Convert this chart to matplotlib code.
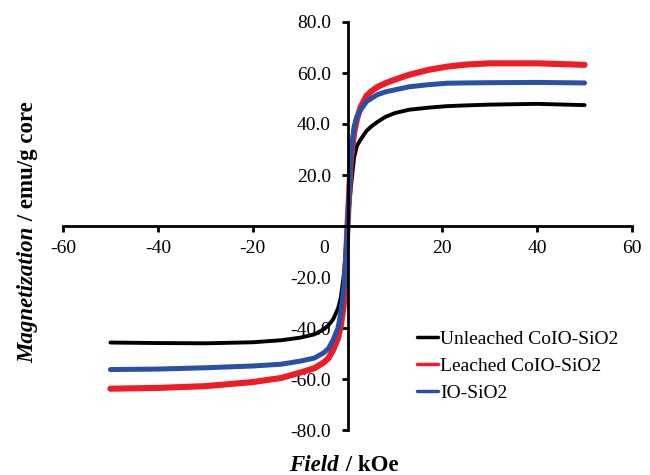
import matplotlib
matplotlib.use("Agg")
import matplotlib.pyplot as plt
from matplotlib.transforms import ScaledTranslation

# Field (kOe) and magnetization (emu/g core)
field = [-50, -40, -30, -20, -14, -10, -7, -5, -4, -3, -2, -1.4, -0.7, 0,
         0.7, 1.4, 2, 2.8, 4, 5, 6.3, 8, 10, 13, 17, 21, 25, 30, 40, 50]

unleached = [-45.7, -45.9, -46.0, -45.6, -44.8, -43.8, -42.5, -40.5, -38.9, -36.5,
             -32.4, -28.0, -18.0, 0.0, 15.0, 27.0, 31.5, 34.0, 37.3, 39.0,
             40.8, 42.8, 44.3, 45.6, 46.4, 47.0, 47.3, 47.6, 47.9, 47.4]

leached = [-63.8, -63.5, -62.8, -61.2, -59.6, -57.5, -55.8, -53.5, -51.8, -48.5,
           -44.0, -39.0, -29.8, 0.0, 26.0, 36.6, 42.0, 46.8, 51.0, 52.8,
           54.5, 56.0, 57.4, 59.3, 61.2, 62.5, 63.3, 63.8, 63.8, 63.2]

io_sio2 = [-56.3, -56.1, -55.6, -54.9, -54.2, -53.0, -51.8, -49.7, -48.0, -44.5,
           -40.0, -34.0, -23.0, 0.0, 28.0, 39.0, 43.0, 45.6, 48.8, 50.0,
           51.5, 52.6, 53.4, 54.6, 55.4, 56.0, 56.1, 56.2, 56.3, 56.1]

labels = ["Unleached CoIO-SiO2", "Leached CoIO-SiO2", "IO-SiO2"]
xticks = [-60, -40, -20, 0, 20, 40, 60]
yticks = [-80, -60, -40, -20, 0, 20, 40, 60, 80]

plt.rcParams['font.family'] = ['Liberation Serif', 'DejaVu Serif']

fig = plt.figure(figsize=(6.5, 4.75), dpi=100)
ax = fig.add_axes([63 / 650, 1 - 430 / 475, 569 / 650, 408 / 475])

ax.plot(field, unleached, color='black', lw=2.8, label=labels[0], solid_capstyle='round')
ax.plot(field, leached, color='#ee1c25', lw=4.4, label=labels[1], solid_capstyle='round')
ax.plot(field, io_sio2, color='#2a4fa6', lw=3.6, label=labels[2], solid_capstyle='round')

ax.set_xlim(-60, 60)
ax.set_ylim(-80, 80)

# axes crossing at the origin
ax.spines['left'].set_position(('data', 0))
ax.spines['bottom'].set_position(('data', 0))
ax.spines['top'].set_visible(False)
ax.spines['right'].set_visible(False)
for s in ('left', 'bottom'):
    ax.spines[s].set_linewidth(2)

ax.set_xticks(xticks)
ax.set_xticklabels([str(t) for t in xticks])
ax.set_yticks(yticks)
ax.set_yticklabels(['' if t == 0 else f"{t:.1f}" for t in yticks])
ax.tick_params(axis='both', direction='out', length=4, width=2, labelsize=14)
ax.tick_params(axis='x', pad=6)
ax.tick_params(axis='y', pad=8)

# the "0" field label sits left of the vertical axis
for lab in ax.get_xticklabels():
    if lab.get_text() == '0':
        lab.set_transform(lab.get_transform() + ScaledTranslation(-0.23, 0, fig.dpi_scale_trans))

leg = ax.legend(loc='upper left', bbox_to_anchor=(417 / 650, 1 - 330 / 475),
                bbox_transform=fig.transFigure, frameon=False, fontsize=14,
                handlelength=1.1, handletextpad=0.1, labelspacing=0.48,
                borderpad=0, borderaxespad=0)
for h in leg.get_lines():
    h.set_linewidth(2.5)

# axis titles: italic bold name + bold unit
fig.canvas.draw()
r = fig.canvas.get_renderer()

t1 = fig.text(33 / 650, 1 - 363 / 475, "Magnetization", rotation=90, rotation_mode='anchor',
              ha='left', va='baseline', fontsize=16.5, fontweight='bold', fontstyle='italic')
bb = t1.get_window_extent(r)
fig.text(33 / 650, (bb.y1 + 1) / 475, " / emu/g core", rotation=90, rotation_mode='anchor',
         ha='left', va='baseline', fontsize=16.5, fontweight='bold')

t2 = fig.text(289 / 650, 4 / 475, "Field", ha='left', va='baseline',
              fontsize=16.5, fontweight='bold', fontstyle='italic')
bb = t2.get_window_extent(r)
fig.text((bb.x1 + 1) / 650, 4 / 475, " / kOe", ha='left', va='baseline',
         fontsize=16.5, fontweight='bold')

fig.savefig("out.png", dpi=100)
